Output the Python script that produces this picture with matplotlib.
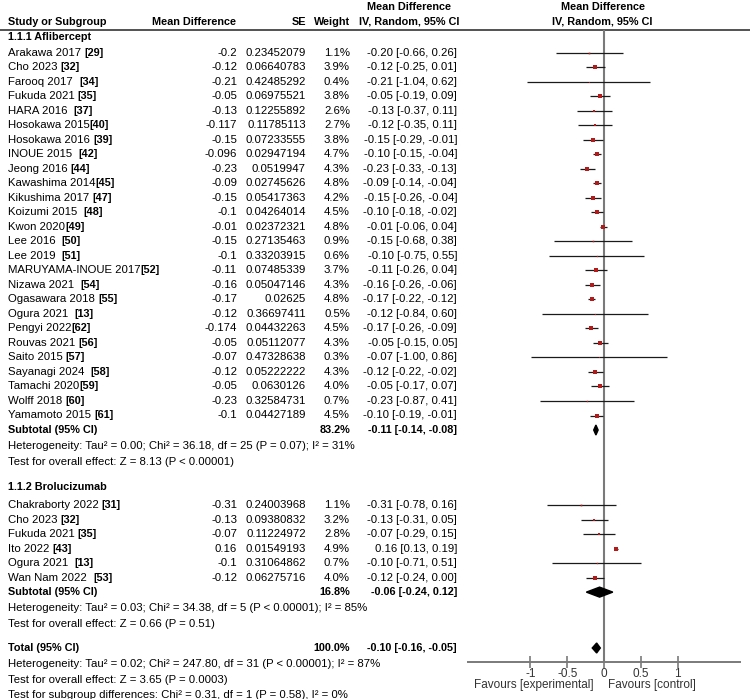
import matplotlib
matplotlib.use('Agg')
import matplotlib.pyplot as plt
from matplotlib.patches import Polygon

plt.rcParams['font.family'] = ['Liberation Sans', 'DejaVu Sans']
FS = 8.2
FB = 7.8

# --- data -------------------------------------------------------------
afl_names = ['Arakawa 2017 ', 'Cho 2023 ', 'Farooq 2017  ', 'Fukuda 2021 ', 'HARA 2016  ',
             'Hosokawa 2015', 'Hosokawa 2016 ', 'INOUE 2015  ', 'Jeong 2016 ',
             'Kawashima 2014', 'Kikushima 2017 ', 'Koizumi 2015  ', 'Kwon 2020',
             'Lee 2016  ', 'Lee 2019  ', 'MARUYAMA-INOUE 2017', 'Nizawa 2021  ',
             'Ogasawara 2018 ', 'Ogura 2021  ', 'Pengyi 2022', 'Rouvas 2021 ',
             'Saito 2015 ', 'Sayanagi 2024  ', 'Tamachi 2020', 'Wolff 2018 ',
             'Yamamoto 2015 ']
afl_refs = ['[29]', '[32]', '[34]', '[35]', '[37]', '[40]', '[39]', '[42]', '[44]',
            '[45]', '[47]', '[48]', '[49]', '[50]', '[51]', '[52]', '[54]', '[55]',
            '[13]', '[62]', '[56]', '[57]', '[58]', '[59]', '[60]', '[61]']
afl_md = [-0.2, -0.12, -0.21, -0.05, -0.13, -0.117, -0.15, -0.096, -0.23, -0.09,
          -0.15, -0.1, -0.01, -0.15, -0.1, -0.11, -0.16, -0.17, -0.12, -0.174,
          -0.05, -0.07, -0.12, -0.05, -0.23, -0.1]
afl_se = [0.23452079, 0.06640783, 0.42485292, 0.06975521, 0.12255892, 0.11785113,
          0.07233555, 0.02947194, 0.0519947, 0.02745626, 0.05417363, 0.04264014,
          0.02372321, 0.27135463, 0.33203915, 0.07485339, 0.05047146, 0.02625,
          0.36697411, 0.04432263, 0.05112077, 0.47328638, 0.05222222, 0.0630126,
          0.32584731, 0.04427189]
afl_w = [1.1, 3.9, 0.4, 3.8, 2.6, 2.7, 3.8, 4.7, 4.3, 4.8, 4.2, 4.5, 4.8, 0.9, 0.6,
         3.7, 4.3, 4.8, 0.5, 4.5, 4.3, 0.3, 4.3, 4.0, 0.7, 4.5]

bro_names = ['Chakraborty 2022 ', 'Cho 2023 ', 'Fukuda 2021 ', 'Ito 2022 ',
             'Ogura 2021  ', 'Wan Nam 2022  ']
bro_refs = ['[31]', '[32]', '[35]', '[43]', '[13]', '[53]']
bro_md = [-0.31, -0.13, -0.07, 0.16, -0.1, -0.12]
bro_se = [0.24003968, 0.09380832, 0.11224972, 0.01549193, 0.31064862, 0.06275716]
bro_w = [1.1, 3.2, 2.8, 4.9, 0.7, 4.0]

group_titles = ['1.1.1 Aflibercept', '1.1.2 Brolucizumab']
sub_est = [-0.11, -0.06]
sub_lo = [-0.14, -0.24]
sub_hi = [-0.08, 0.12]
sub_w = [83.2, 16.8]
sub_het = ['Heterogeneity: Tau\u00b2 = 0.00; Chi\u00b2 = 36.18, df = 25 (P = 0.07); I\u00b2 = 31%',
           'Heterogeneity: Tau\u00b2 = 0.03; Chi\u00b2 = 34.38, df = 5 (P < 0.00001); I\u00b2 = 85%']
sub_z = ['Test for overall effect: Z = 8.13 (P < 0.00001)',
         'Test for overall effect: Z = 0.66 (P = 0.51)']

tot_est, tot_lo, tot_hi = -0.10, -0.16, -0.05
tot_notes = ['Heterogeneity: Tau\u00b2 = 0.02; Chi\u00b2 = 247.80, df = 31 (P < 0.00001); I\u00b2 = 87%',
             'Test for overall effect: Z = 3.65 (P = 0.0003)',
             'Test for subgroup differences: Chi\u00b2 = 0.31, df = 1 (P = 0.58), I\u00b2 = 0%']

ticks = [-1, -0.5, 0, 0.5, 1]
tick_labels = ['-1', '-0.5', '0', '0.5', '1']

# --- layout (pixels) ----------------------------------------------------
W, H = 750, 699
X_NAME, X_MD, X_SE, X_W, X_CI = 8, 237, 306, 350, 457
ROW = 14.52
AX_TOP, AX_BOT = 30, 662
AX_L, AX_R = 468, 740
XMAX = 1.85
RED = '#b01c1c'
GREY = '#7a7a7a'

fig = plt.figure(figsize=(W / 100, H / 100), dpi=100)
ax = fig.add_axes([0, 0, 1, 1])
ax.set_xlim(0, W)
ax.set_ylim(H, 0)
ax.axis('off')

fx = fig.add_axes([AX_L / W, (H - AX_BOT) / H, (AX_R - AX_L) / W, (AX_BOT - AX_TOP) / H])
fx.patch.set_alpha(0)
fx.set_xlim(-XMAX, XMAX)
fx.set_ylim(AX_BOT, AX_TOP)
for s in ['left', 'right', 'top']:
    fx.spines[s].set_visible(False)
fx.spines['bottom'].set_color(GREY)
fx.spines['bottom'].set_linewidth(1.4)
fx.set_yticks([])
fx.set_xticks(ticks)
fx.set_xticklabels(tick_labels, fontsize=FS + 0.3, color='#333333')
fx.tick_params(axis='x', direction='inout', length=8, width=1.2, color=GREY, pad=0)
fx.axvline(0, color=GREY, lw=1.5, zorder=1)

# header
ax.text(409, 7, 'Mean Difference', ha='center', va='center', fontsize=FB, fontweight='bold')
ax.text(603, 7, 'Mean Difference', ha='center', va='center', fontsize=FB, fontweight='bold')
ax.text(X_NAME, 22, 'Study or Subgroup', ha='left', va='center', fontsize=FB, fontweight='bold')
ax.text(194, 22, 'Mean Difference', ha='center', va='center', fontsize=FB, fontweight='bold')
ax.text(X_SE, 22, 'SE', ha='right', va='center', fontsize=FB, fontweight='bold')
ax.text(X_W, 22, 'Weight', ha='right', va='center', fontsize=FB, fontweight='bold')
ax.text(409, 22, 'IV, Random, 95% CI', ha='center', va='center', fontsize=FB, fontweight='bold')
ax.text(602, 22, 'IV, Random, 95% CI', ha='center', va='center', fontsize=FB, fontweight='bold')
ax.axhline(AX_TOP, color='#444444', lw=1.3)


def ci_text(e, lo, hi):
    return f'{e:.2f} [{lo:.2f}, {hi:.2f}]'


def diamond(y, e, lo, hi):
    fx.add_patch(Polygon([(lo, y), (e, y - 5), (hi, y), (e, y + 5)],
                         closed=True, color='black', zorder=3))


def study_rows(y0, names, refs, md, se, w):
    for i in range(len(names)):
        y = y0 + i * ROW
        lo, hi = md[i] - 1.96 * se[i], md[i] + 1.96 * se[i]
        t = ax.text(X_NAME, y, names[i], ha='left', va='center', fontsize=FS)
        ax.annotate(refs[i], xy=(1, 0.5), xycoords=t, ha='left', va='center',
                    fontsize=FB, fontweight='bold')
        ax.text(X_MD, y, str(md[i]), ha='right', va='center', fontsize=FS)
        ax.text(X_SE, y, str(se[i]), ha='right', va='center', fontsize=FS)
        ax.text(X_W, y, f'{w[i]:.1f}%', ha='right', va='center', fontsize=FS)
        ax.text(X_CI, y, ci_text(md[i], lo, hi), ha='right', va='center', fontsize=FS)
        fx.hlines(y, lo, hi, color='#1a1a1a', lw=0.9, zorder=2)
        fx.plot(md[i], y, 's', color=RED, ms=1.15 * w[i] ** 0.5, mew=0, zorder=3)
    return y0 + len(names) * ROW


groups = [(afl_names, afl_refs, afl_md, afl_se, afl_w),
          (bro_names, bro_refs, bro_md, bro_se, bro_w)]
y_title = [37, 487.5]
for g, data in enumerate(groups):
    ax.text(X_NAME, y_title[g], group_titles[g], ha='left', va='center',
            fontsize=FB, fontweight='bold')
    ys = study_rows(y_title[g] + 15.5 if g == 0 else y_title[g] + 17.5, *data)
    ax.text(X_NAME, ys, 'Subtotal (95% CI)', ha='left', va='center', fontsize=FB, fontweight='bold')
    ax.text(X_W, ys, f'{sub_w[g]:.1f}%', ha='right', va='center', fontsize=FB, fontweight='bold')
    ax.text(X_CI, ys, ci_text(sub_est[g], sub_lo[g], sub_hi[g]), ha='right', va='center',
            fontsize=FB, fontweight='bold')
    diamond(ys, sub_est[g], sub_lo[g], sub_hi[g])
    ax.text(X_NAME, ys + 16, sub_het[g], ha='left', va='center', fontsize=FS)
    ax.text(X_NAME, ys + 31.5, sub_z[g], ha='left', va='center', fontsize=FS)

y_tot = 648
ax.text(X_NAME, y_tot, 'Total (95% CI)', ha='left', va='center', fontsize=FB, fontweight='bold')
ax.text(X_W, y_tot, '100.0%', ha='right', va='center', fontsize=FB, fontweight='bold')
ax.text(X_CI, y_tot, ci_text(tot_est, tot_lo, tot_hi), ha='right', va='center',
        fontsize=FB, fontweight='bold')
diamond(y_tot, tot_est, tot_lo, tot_hi)
for k, note in enumerate(tot_notes):
    ax.text(X_NAME, y_tot + 16 + k * 15.7, note, ha='left', va='center', fontsize=FS)

ax.text(594, 685, 'Favours [experimental]', ha='right', va='center', fontsize=FS + 0.3, color='#333333')
ax.text(608, 685, 'Favours [control]', ha='left', va='center', fontsize=FS + 0.3, color='#333333')

fig.savefig('out.png', dpi=100)
